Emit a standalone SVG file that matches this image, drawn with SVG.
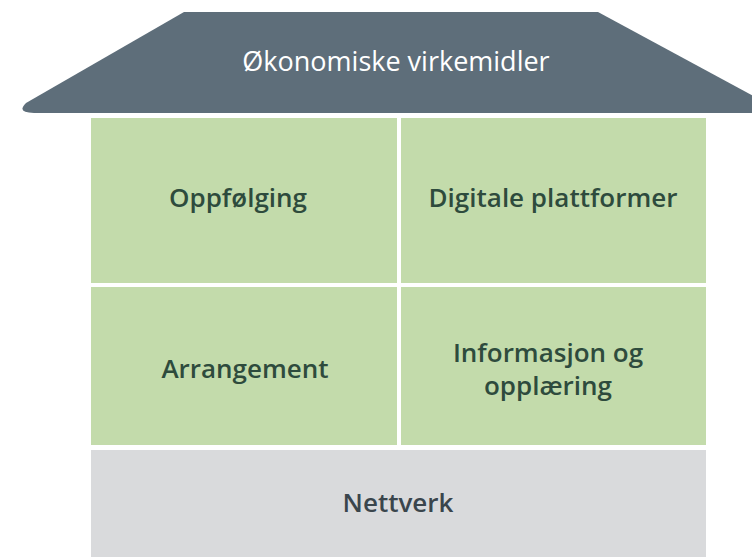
<svg xmlns="http://www.w3.org/2000/svg" width="752" height="557" viewBox="0 0 752 557">
<style>
.lbl{font-family:"Open Sans","Noto Sans",sans-serif;font-size:26px;font-weight:600;fill:#2e4b3d;text-anchor:middle}
.green{fill:#c3dbab}
</style>
<rect width="752" height="557" fill="#ffffff"/>
<g id="roof">
<path d="M184,12 L598,12 L785,113 L34,113 Q16,113 26,103 Z" fill="#5e6e7a"/>
<text x="396" y="71" font-family="'Open Sans','Noto Sans',sans-serif" font-size="27" fill="#ffffff" text-anchor="middle">Økonomiske virkemidler</text>
</g>
<g id="oppfolging">
<rect class="green" x="91" y="118" width="306" height="165"/>
<text class="lbl" x="238" y="207">Oppfølging</text>
</g>
<g id="digitale">
<rect class="green" x="401" y="118" width="305" height="165"/>
<text class="lbl" x="553" y="207">Digitale plattformer</text>
</g>
<g id="arrangement">
<rect class="green" x="91" y="287" width="306" height="158"/>
<text class="lbl" x="245" y="378">Arrangement</text>
</g>
<g id="informasjon">
<rect class="green" x="401" y="287" width="305" height="158"/>
<text class="lbl" x="548" y="362">Informasjon og</text>
<text class="lbl" x="548" y="395">opplæring</text>
</g>
<g id="nettverk">
<rect x="91" y="450" width="615" height="107" fill="#d9dadc"/>
<text class="lbl" x="398" y="512" style="fill:#3a454c">Nettverk</text>
</g>
<g id="connectors"/>
</svg>
